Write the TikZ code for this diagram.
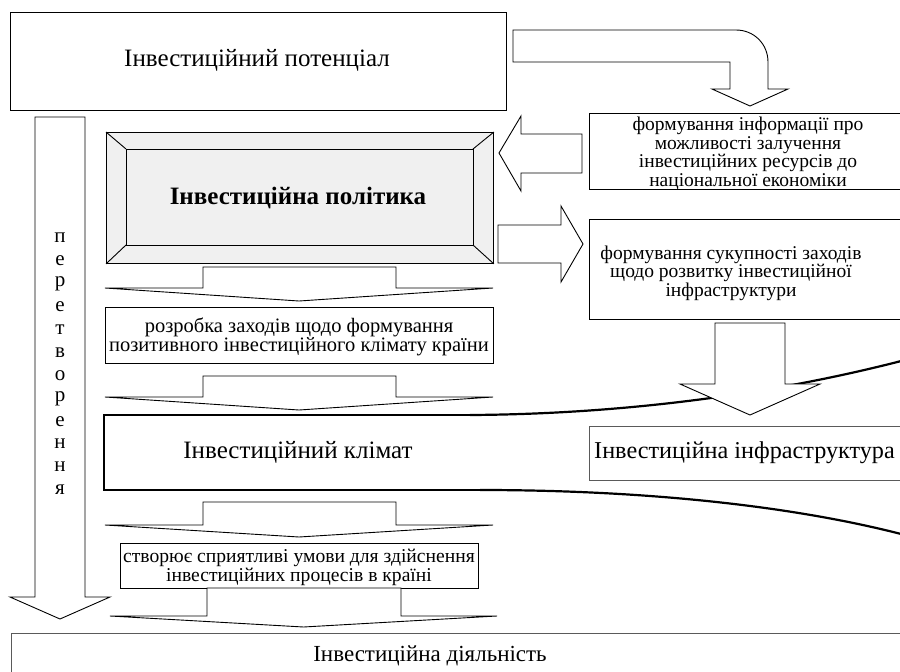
\documentclass[tikz,border=0pt]{standalone}
\usepackage{fontspec}
\setmainfont{Liberation Serif}
\definecolor{polfill}{RGB}{240,240,240}
\definecolor{softline}{RGB}{90,90,90}
\newcommand\bigtxt{\fontsize{25}{28}\selectfont}
\newcommand\smalltxt{\fontsize{20.5}{19}\selectfont}
\newcommand\righttxt{\fontsize{19.5}{18.5}\selectfont}
\newcommand\flatdown[7]{%
  \draw[fatarrow] (#1,#3) -- (#2,#3) -- (#2,#4) -- (#6,#4) -- ({(#5+#6)/2},#7) -- (#5,#4) -- (#1,#4) -- cycle;}
\begin{document}
\begin{tikzpicture}[x=1pt,y=-1pt,
  box/.style={draw=black, line width=0.9pt, rectangle, inner sep=0pt},
  softbox/.style={draw=softline, line width=0.9pt, rectangle, inner sep=0pt},
  fatarrow/.style={draw=black, fill=white, line width=0.9pt, line join=miter},
  bigtext/.style={font=\bigtxt, inner sep=0pt},
  smalltext/.style={font=\smalltxt, align=center, inner sep=0pt},
  righttext/.style={font=\righttxt, align=center, inner sep=0pt},
  letter/.style={font=\fontsize{21}{21}\selectfont, inner sep=0pt}]
\useasboundingbox (0,0) rectangle (900,672);
\clip (0,0) rectangle (900,672);

% Top box
\node[box, anchor=north west, minimum width=496pt, minimum height=98pt] (pot) at (10,12) {};
\node[bigtext] (pottxt) at (257,60) {Інвестиційний потенціал};

% curved arrow from top box to info box
\draw[fatarrow] (513,30) -- (736,30) .. controls (754,30) and (768,44) .. (768,62)
  -- (768,89) -- (788,89) -- (750,106) -- (712,89) -- (730,89) -- (730,62) -- (513,62) -- cycle;

% info box
\node[box, anchor=north west, minimum width=315pt, minimum height=76pt] (info) at (589,113) {};
\node[righttext] (infotxt) at (748,153.5) {формування інформації про\\можливості залучення\\інвестиційних ресурсів до\\національної економіки};

% left arrow (info -> policy)
\draw[fatarrow] (582,134) -- (521,134) -- (521,116) -- (499,153) -- (521,191) -- (521,173) -- (582,173) -- cycle;

% policy bevel box
\node[box, fill=polfill, anchor=north west, minimum width=387pt, minimum height=131pt] (pol) at (106,132) {};
\draw[line width=0.9pt] (126,149) rectangle (473,245);
\draw[line width=0.9pt] (pol.north west) -- (126,149) (pol.north east) -- (473,149)
  (pol.south west) -- (126,245) (pol.south east) -- (473,245);
\node[bigtext, font=\bigtxt\bfseries] (poltxt) at (298,198) {Інвестиційна політика};

% right arrow (policy -> infra measures)
\draw[fatarrow] (498,225) -- (561,225) -- (561,206) -- (583,244) -- (561,282) -- (561,263) -- (498,263) -- cycle;

% infra measures box
\node[box, anchor=north west, minimum width=315pt, minimum height=100pt] (meas) at (589,219) {};
\node[righttext] (meastxt) at (731,273) {формування сукупності заходів\\щодо розвитку інвестиційної\\інфраструктури};

% arrow 1
\flatdown{203}{396}{267}{288}{105}{493}{301}
% razrobka box
\node[box, anchor=north west, minimum width=388pt, minimum height=56pt] (razr) at (105,307) {};
\node[smalltext] (razrtxt) at (299,337) {розробка заходів щодо формування\\позитивного інвестиційного клімату країни};
% arrow 2
\flatdown{203}{396}{376}{397}{105}{493}{410}

% climate funnel
\draw[line width=2.2pt, line join=miter] (472,415) -- (104,415) -- (104,490) -- (482,490);
\draw[line width=2.2pt] (470,415) .. controls (640,414) and (790,390) .. (905,360);
\draw[line width=2.2pt] (480,490) .. controls (640,490) and (790,505) .. (905,535);
\node[bigtext] (clim) at (298,452) {Інвестиційний клімат};

% arrow above infrastructure
\draw[fatarrow] (715,323) -- (785,323) -- (785,384) -- (820,384) -- (750,415) -- (680,384) -- (715,384) -- cycle;

% infrastructure box
\node[softbox, anchor=north west, minimum width=330pt, minimum height=54pt] (infra) at (589,426) {};
\node[bigtext, font=\fontsize{24.2}{27}\selectfont, anchor=west] (infratxt) at (594,453) {Інвестиційна інфраструктура};

% arrow 3
\flatdown{203}{396}{502}{525}{105}{493}{537}
% stvoryuye box
\node[box, anchor=north west, minimum width=358pt, minimum height=45pt] (stv) at (120,543) {};
\node[smalltext, font=\fontsize{19.6}{19}\selectfont] (stvtxt) at (299,567) {створює сприятливі умови для здійснення\\інвестиційних процесів в країні};
% arrow 4
\flatdown{207}{401}{588}{616}{110}{497}{627}

% big left arrow
\draw[fatarrow] (35,117) -- (85,117) -- (85,597) -- (110,597) -- (60,619) -- (10,597) -- (35,597) -- cycle;
\foreach \ch [count=\i from 0] in {п,е,р,е,т,в,о,р,е,н,н,я}
  \node[letter] (l\i) at (60,{238+\i*22.9}) {\ch};

% bottom box
\node[softbox, anchor=north west, minimum width=900pt, minimum height=60pt] (act) at (11,633) {};
\node[bigtext, font=\fontsize{23}{26}\selectfont] (acttxt) at (430,656) {Інвестиційна діяльність};
\end{tikzpicture}
\end{document}
